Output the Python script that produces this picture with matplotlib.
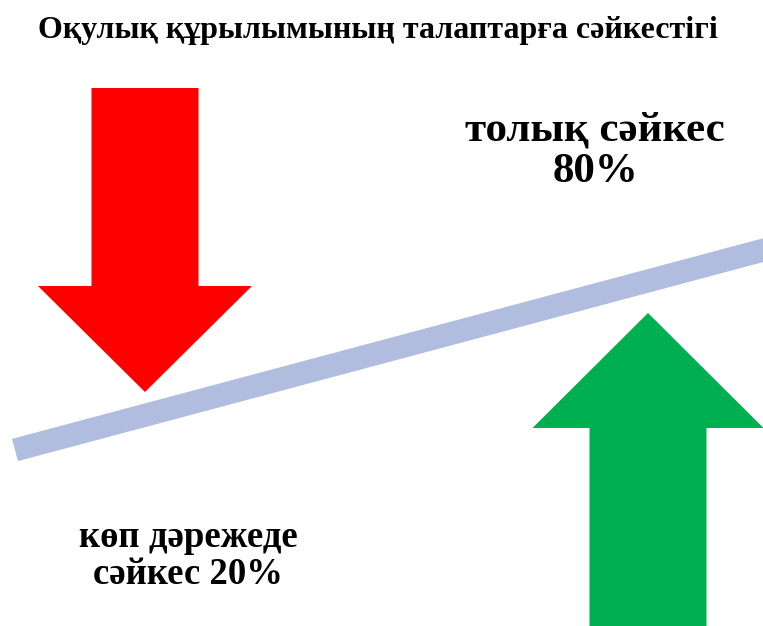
import matplotlib.pyplot as plt
from matplotlib.patches import Polygon
import numpy as np

title = "Оқулық құрылымының талаптарға сәйкестігі"
labels = [["толық сәйкес", "{}%"], ["көп дәрежеде", "сәйкес {}%"]]
values = [80, 20]

W, H = 763, 626
fig = plt.figure(figsize=(W / 100, H / 100), dpi=100)
ax = fig.add_axes([0, 0, 1, 1])
ax.set_xlim(0, W)
ax.set_ylim(H, 0)
ax.axis("off")

serif = ["Liberation Serif", "DejaVu Serif"]


def arrow(tip_x, tip_y, head_w, head_h, shaft_w, shaft_len, up, color):
    s = 1 if up else -1  # up: body goes downwards in screen coords
    base_y = tip_y + s * head_h
    end_y = base_y + s * shaft_len
    pts = [(tip_x, tip_y),
           (tip_x + head_w / 2, base_y),
           (tip_x + shaft_w / 2, base_y),
           (tip_x + shaft_w / 2, end_y),
           (tip_x - shaft_w / 2, end_y),
           (tip_x - shaft_w / 2, base_y),
           (tip_x - head_w / 2, base_y)]
    ax.add_patch(Polygon(pts, closed=True, color=color, lw=0))


# balance beam
p0 = np.array([15, 450])
p1 = np.array([775, 247])
d = (p1 - p0) / np.linalg.norm(p1 - p0)
n = np.array([-d[1], d[0]]) * 11.5
beam = [p0 + n, p1 + n, p1 - n, p0 - n]
ax.add_patch(Polygon(beam, closed=True, color="#b0bddf", lw=0))

# red arrow (down), green arrow (up)
arrow(145, 392, 214, 106, 107, 198, up=False, color="#ff0000")
arrow(648, 313, 231, 115, 117, 220, up=True, color="#00b050")

ax.text(378, 38, title, ha="center", va="baseline", fontsize=23,
        fontweight="bold", family=serif)

blocks = [(595, [140, 182], 31), (188, [547, 584], 26.5)]
for (cx, baselines, fs), lines, v in zip(blocks, labels, values):
    for y, line in zip(baselines, lines):
        ax.text(cx, y, line.format(v), ha="center", va="baseline",
                fontsize=fs, fontweight="bold", family=serif)

fig.savefig("out.png", dpi=100)
